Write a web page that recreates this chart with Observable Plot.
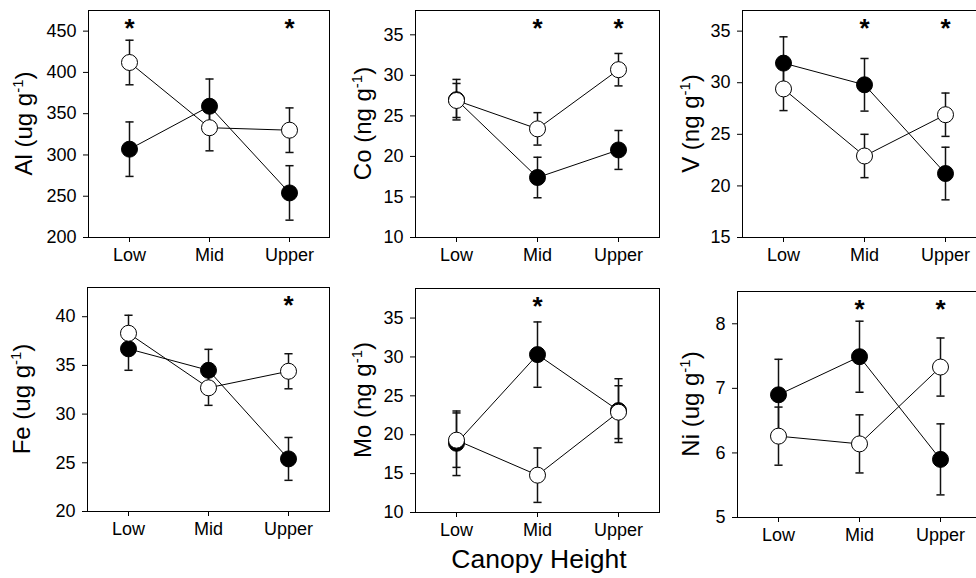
<!DOCTYPE html>
<html>
<head>
<meta charset="utf-8">
<script src="https://cdn.jsdelivr.net/npm/d3@7"></script>
<script src="https://cdn.jsdelivr.net/npm/@observablehq/plot@0.6"></script>
<style>
  html, body { margin: 0; padding: 0; background: #fff; }
  #chart { position: relative; width: 976px; height: 578px; overflow: hidden;
           font-family: "Liberation Sans", Arial, sans-serif; }
  #chart svg { position: absolute; }
</style>
</head>
<body>
<div id="chart"></div>
<script>
// ---------------- data ----------------
const categories = ["Low", "Mid", "Upper"];

const alFilled = [307, 359, 254];
const alFilledSE = [33, 33, 33];
const alOpen = [412, 333, 330];
const alOpenSE = [27, 28, 27];
const alTicks = [200, 250, 300, 350, 400, 450];
const alStars = ["Low", "Upper"];

const coFilled = [27.0, 17.4, 20.8];
const coFilledSE = [2.5, 2.5, 2.4];
const coOpen = [26.9, 23.4, 30.7];
const coOpenSE = [2.1, 2.0, 2.0];
const coTicks = [10, 15, 20, 25, 30, 35];
const coStars = ["Mid", "Upper"];

const vFilled = [31.9, 29.8, 21.2];
const vFilledSE = [2.55, 2.55, 2.55];
const vOpen = [29.4, 22.9, 26.9];
const vOpenSE = [2.1, 2.1, 2.1];
const vTicks = [15, 20, 25, 30, 35];
const vStars = ["Mid", "Upper"];

const feFilled = [36.7, 34.5, 25.4];
const feFilledSE = [2.2, 2.15, 2.2];
const feOpen = [38.3, 32.7, 34.4];
const feOpenSE = [1.85, 1.8, 1.8];
const feTicks = [20, 25, 30, 35, 40];
const feStars = ["Upper"];

const moFilled = [18.9, 30.3, 23.1];
const moFilledSE = [4.15, 4.2, 4.1];
const moOpen = [19.3, 14.8, 22.9];
const moOpenSE = [3.5, 3.5, 3.4];
const moTicks = [10, 15, 20, 25, 30, 35];
const moStars = ["Mid"];

const niFilled = [6.9, 7.49, 5.9];
const niFilledSE = [0.55, 0.55, 0.55];
const niOpen = [6.26, 6.14, 7.33];
const niOpenSE = [0.45, 0.45, 0.45];
const niTicks = [5, 6, 7, 8];
const niStars = ["Mid", "Upper"];

const xTitle = "Canopy Height";

// ---------------- layout ----------------
const panels = [
  {name: "Al", unit: "ug", filled: alFilled, filledSE: alFilledSE, open: alOpen, openSE: alOpenSE,
   ticks: alTicks, stars: alStars, domain: [200, 475],
   left: 88, right: 329, top: 10, bottom: 237, labelOffset: 64},
  {name: "Co", unit: "ng", filled: coFilled, filledSE: coFilledSE, open: coOpen, openSE: coOpenSE,
   ticks: coTicks, stars: coStars, domain: [10, 38],
   left: 415, right: 659, top: 10, bottom: 237, labelOffset: 52},
  {name: "V", unit: "ng", filled: vFilled, filledSE: vFilledSE, open: vOpen, openSE: vOpenSE,
   ticks: vTicks, stars: vStars, domain: [15, 37],
   left: 742, right: 986, top: 10, bottom: 237, labelOffset: 51},
  {name: "Fe", unit: "ug", filled: feFilled, filledSE: feFilledSE, open: feOpen, openSE: feOpenSE,
   ticks: feTicks, stars: feStars, domain: [20, 43],
   left: 87, right: 329, top: 287, bottom: 511, labelOffset: 65},
  {name: "Mo", unit: "ng", filled: moFilled, filledSE: moFilledSE, open: moOpen, openSE: moOpenSE,
   ticks: moTicks, stars: moStars, domain: [10, 38.8],
   left: 415, right: 659, top: 288, bottom: 512, labelOffset: 52},
  {name: "Ni", unit: "ug", filled: niFilled, filledSE: niFilledSE, open: niOpen, openSE: niOpenSE,
   ticks: niTicks, stars: niStars, domain: [5, 8.5],
   left: 737, right: 981, top: 291, bottom: 517, labelOffset: 46}
];

// horizontal cap symbol for error bars
const capSymbol = {
  draw(context, size) {
    const w = Math.sqrt(size) / 2;
    context.moveTo(-w, 0);
    context.lineTo(w, 0);
  }
};

const chart = document.getElementById("chart");
const ML = 85, MR = 2, MT = 2, MB = 40;

function makePanel(p) {
  const filled = categories.map((c, i) => ({cat: c, v: p.filled[i], lo: p.filled[i] - p.filledSE[i], hi: p.filled[i] + p.filledSE[i]}));
  const open = categories.map((c, i) => ({cat: c, v: p.open[i], lo: p.open[i] - p.openSE[i], hi: p.open[i] + p.openSE[i]}));
  const all = filled.concat(open);
  const W = p.right - p.left, H = p.bottom - p.top;

  const svg = Plot.plot({
    width: ML + W + MR,
    height: MT + H + MB,
    marginLeft: ML, marginRight: MR, marginTop: MT, marginBottom: MB,
    style: {background: "transparent", fontFamily: "'Liberation Sans', Arial, sans-serif",
            fontSize: "18px", color: "black", overflow: "visible"},
    x: {type: "point", domain: categories, padding: 0.5, label: null, tickSize: 5, tickPadding: 6},
    y: {domain: p.domain, ticks: p.ticks, tickFormat: d => String(d), label: null, tickSize: 5, tickPadding: 7},
    marks: [
      Plot.frame({stroke: "black", strokeWidth: 1}),
      Plot.line(filled, {x: "cat", y: "v", stroke: "black", strokeWidth: 1}),
      Plot.line(open, {x: "cat", y: "v", stroke: "black", strokeWidth: 1}),
      Plot.ruleX(all, {x: "cat", y1: "lo", y2: "hi", stroke: "#111", strokeWidth: 1.5}),
      Plot.dot(all, {x: "cat", y: "hi", symbol: capSymbol, r: 4.6, stroke: "#111", strokeWidth: 1.5}),
      Plot.dot(all, {x: "cat", y: "lo", symbol: capSymbol, r: 4.6, stroke: "#111", strokeWidth: 1.5}),
      Plot.dot(filled, {x: "cat", y: "v", r: 8, fill: "black", stroke: "black", strokeWidth: 1}),
      Plot.dot(open, {x: "cat", y: "v", r: 8, fill: "white", stroke: "black", strokeWidth: 1}),
      Plot.text(p.stars, {x: d => d, frameAnchor: "top", text: () => "*", fontSize: 26,
                          fontWeight: "bold", lineAnchor: "top", dy: 8, fill: "black"})
    ]
  });
  svg.style.left = (p.left - ML) + "px";
  svg.style.top = (p.top - MT) + "px";

  const label = d3.select(svg).append("text")
    .attr("transform", `translate(${ML - p.labelOffset},${MT + H / 2}) rotate(-90)`)
    .attr("text-anchor", "middle")
    .attr("dy", "0.35em")
    .attr("font-size", 24)
    .attr("fill", "black")
    .attr("font-family", "'Liberation Sans', Arial, sans-serif");
  label.append("tspan").text(`${p.name} (${p.unit} g`);
  label.append("tspan").attr("dy", -9).attr("font-size", 15).text("-1");
  label.append("tspan").attr("dy", 9).text(")");

  chart.appendChild(svg);
}

panels.forEach(makePanel);

// shared x title
const overlay = d3.select(chart).append("svg")
  .attr("width", 976).attr("height", 578)
  .style("left", "0px").style("top", "0px").style("pointer-events", "none");
overlay.append("text")
  .attr("x", 539).attr("y", 568)
  .attr("text-anchor", "middle")
  .attr("font-size", 26.5)
  .attr("font-family", "'Liberation Sans', Arial, sans-serif")
  .attr("fill", "black")
  .text(xTitle);
</script>
</body>
</html>
